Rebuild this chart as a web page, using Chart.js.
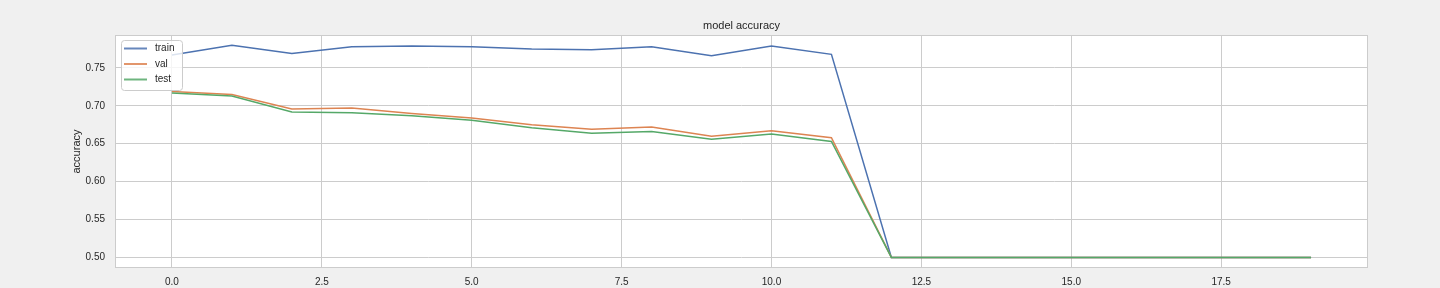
<!DOCTYPE html>
<html>
<head>
<meta charset="utf-8">
<title>model accuracy</title>
<script src="https://cdn.jsdelivr.net/npm/chart.js@4.4.1/dist/chart.umd.min.js"></script>
<style>
  html, body { margin: 0; padding: 0; background: #f0f0f0; }
  canvas { display: block; }
</style>
</head>
<body>
<canvas id="accChart" width="1440" height="288"></canvas>
<script>
// epochs on the x axis
const epochs = [0, 1, 2, 3, 4, 5, 6, 7, 8, 9, 10, 11, 12, 13, 14, 15, 16, 17, 18, 19];

// accuracy per epoch
const trainAcc = [0.767, 0.780, 0.769, 0.778, 0.779, 0.778, 0.775, 0.774, 0.778, 0.766, 0.779, 0.768,
                  0.5, 0.5, 0.5, 0.5, 0.5, 0.5, 0.5, 0.5];
const valAcc = [0.719, 0.715, 0.696, 0.697, 0.690, 0.684, 0.675, 0.669, 0.672, 0.660, 0.667, 0.658,
                0.5, 0.5, 0.5, 0.5, 0.5, 0.5, 0.5, 0.5];
const testAcc = [0.717, 0.713, 0.692, 0.691, 0.687, 0.681, 0.671, 0.664, 0.666, 0.656, 0.663, 0.653,
                 0.5, 0.5, 0.5, 0.5, 0.5, 0.5, 0.5, 0.5];

const seriesNames = ['train', 'val', 'test'];
const xTicks = [0, 2.5, 5, 7.5, 10, 12.5, 15, 17.5];
const yTicks = [0.50, 0.55, 0.60, 0.65, 0.70, 0.75];

const COLORS = ['#4c72b0', '#dd8452', '#55a868'];
const GRID = '#cccccc';
const TEXT = '#262626';
const FONT = '"Liberation Sans", Arial, sans-serif';

function toPoints(values) {
    return values.map((v, i) => ({x: epochs[i], y: v}));
}

// white axes background, spines, title and the legend inside the plot
const mplLook = {
    id: 'mplLook',
    beforeDraw(chart) {
        const {ctx, chartArea: a} = chart;
        ctx.save();
        ctx.fillStyle = '#f0f0f0';
        ctx.fillRect(0, 0, chart.width, chart.height);
        ctx.fillStyle = '#ffffff';
        ctx.fillRect(a.left, a.top, a.right - a.left, a.bottom - a.top);
        ctx.restore();
    },
    afterDraw(chart) {
        const {ctx, chartArea: a} = chart;
        ctx.save();

        ctx.strokeStyle = GRID;
        ctx.lineWidth = 1;
        ctx.strokeRect(a.left + 0.5, a.top + 0.5, a.right - a.left - 1, a.bottom - a.top - 1);

        ctx.fillStyle = TEXT;
        ctx.font = '11px ' + FONT;
        ctx.textAlign = 'center';
        ctx.textBaseline = 'middle';
        ctx.fillText('model accuracy', (a.left + a.right) / 2, 25.5);

        // legend box
        const bx = a.left + 6, by = a.top + 5, bw = 61, bh = 50;
        ctx.beginPath();
        ctx.roundRect(bx + 0.5, by + 0.5, bw, bh, 3);
        ctx.fillStyle = 'rgba(255,255,255,0.8)';
        ctx.fill();
        ctx.strokeStyle = GRID;
        ctx.stroke();

        ctx.font = '10px ' + FONT;
        ctx.textAlign = 'left';
        chart.data.datasets.forEach((ds, i) => {
            const ly = by + 8.5 + i * 15.5;
            ctx.beginPath();
            ctx.moveTo(bx + 3, ly);
            ctx.lineTo(bx + 26, ly);
            ctx.strokeStyle = ds.borderColor;
            ctx.globalAlpha = 0.85;
            ctx.lineWidth = 2;
            ctx.stroke();
            ctx.globalAlpha = 1;
            ctx.fillStyle = TEXT;
            ctx.fillText(ds.label, bx + 34, ly);
        });
        ctx.restore();
    }
};

// later series drawn on top, as in the original plot
const datasets = [trainAcc, valAcc, testAcc].map((values, i) => ({
    label: seriesNames[i],
    data: toPoints(values),
    borderColor: COLORS[i],
    backgroundColor: COLORS[i],
    borderWidth: 1.5,
    pointRadius: 0,
    tension: 0,
    fill: false,
    order: 2 - i
}));

new Chart(document.getElementById('accChart'), {
    type: 'line',
    data: {datasets: datasets},
    plugins: [mplLook],
    options: {
        responsive: false,
        animation: false,
        devicePixelRatio: 1,
        layout: {padding: {left: 0, right: 72, top: 35, bottom: 0}},
        plugins: {
            legend: {display: false},
            title: {display: false},
            tooltip: {enabled: false}
        },
        scales: {
            x: {
                type: 'linear',
                min: -0.95,
                max: 19.95,
                afterBuildTicks(scale) {
                    scale.ticks = xTicks.map(v => ({value: v}));
                },
                afterFit(scale) {
                    scale.height = 20;
                },
                grid: {color: GRID, lineWidth: 1, drawTicks: false},
                border: {display: false},
                ticks: {
                    padding: 8,
                    color: TEXT,
                    font: {family: FONT, size: 10},
                    maxRotation: 0,
                    autoSkip: false,
                    callback: v => Number(v).toFixed(1)
                }
            },
            y: {
                type: 'linear',
                min: 0.486,
                max: 0.7935,
                afterBuildTicks(scale) {
                    scale.ticks = yTicks.map(v => ({value: v}));
                },
                afterFit(scale) {
                    scale.width = 115;
                },
                grid: {color: GRID, lineWidth: 1, drawTicks: false},
                border: {display: false},
                title: {
                    display: true,
                    text: 'accuracy',
                    color: TEXT,
                    font: {family: FONT, size: 11},
                    padding: {top: 70, bottom: 0}
                },
                ticks: {
                    padding: 10,
                    color: TEXT,
                    font: {family: FONT, size: 10},
                    autoSkip: false,
                    callback: v => Number(v).toFixed(2)
                }
            }
        }
    }
});
</script>
</body>
</html>
